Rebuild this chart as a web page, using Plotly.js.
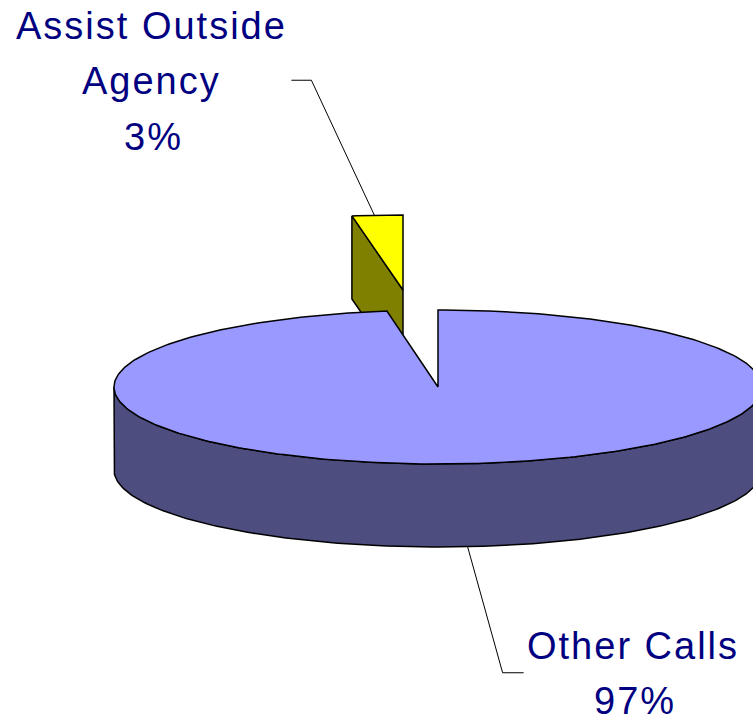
<!DOCTYPE html>
<html>
<head>
<meta charset="utf-8">
<script src="https://cdn.plot.ly/plotly-3.0.1.min.js"></script>
<style>html,body{margin:0;padding:0;background:#fff}#chart{width:753px;height:718px}
.annotation-text{letter-spacing:2px}</style>
</head>
<body>
<div id="chart"></div>
<script>
// Data
var categories = ['Assist Outside Agency', 'Other Calls'];
var shares = [3, 97];
var labelLines = [['Assist Outside', 'Agency', '3%'], ['Other Calls', '97%']];

// Disc geometry on a pixel-sized hidden axis pair
var W = 753, H = 718;
var cx = 438, cy = 387, rx = 324, ry = 77, depth = 83;
var explodeDx = -35, explodeDy = -97;
var perspective = 0.84; // foreshortening of the back rim
var smallT = shares[0] * 3.6 * perspective;
var rad = Math.PI / 180;

function rim(t, ox, oy, dz, rY) {
  return [ox + rx * Math.sin(t * rad), oy - (rY || ry) * Math.cos(t * rad) + (dz || 0)];
}
function path(pts, fill, width) {
  return {
    type: 'scatter', mode: 'lines', x: pts.map(function (p) { return p[0]; }), y: pts.map(function (p) { return p[1]; }),
    fill: fill ? 'toself' : 'none', fillcolor: fill || undefined,
    line: { color: '#000000', width: width, shape: 'linear' }, hoverinfo: 'skip', showlegend: false
  };
}
function arc(t0, t1, ox, oy, dz, rY) {
  var out = [], n = Math.max(2, Math.ceil(Math.abs(t1 - t0)));
  for (var i = 0; i <= n; i++) out.push(rim(t0 + (t1 - t0) * i / n, ox, oy, dz, rY));
  return out;
}

// Exploded slice (3%)
var ex = cx + explodeDx, ey = cy + explodeDy;
var smallTop = [[ex, ey]].concat(arc(-smallT, 0, ex, ey, 0, ry - 2)).concat([[ex, ey]]);
var a = rim(-smallT, ex, ey, 0, ry - 2);
var smallWall = [a, [ex, ey], [ex, ey + depth], [a[0], a[1] + depth], a];

// Main slice (97%)
var mainTop = [[cx, cy]].concat(arc(0, 360 - smallT, cx, cy)).concat([[cx, cy]]);
var mainWall = arc(90, 270, cx, cy).concat(arc(270, 90, cx, cy, depth));
mainWall.push(mainWall[0]);

// Leader lines, from each slice's rim mid-angle
var l0 = rim(-smallT / 2, ex, ey);
var elbow0 = [l0[0] - 66, l0[1] - 133];
var leader0 = [[l0[0] - 3, l0[1] + 2], elbow0, [elbow0[0] - 20, elbow0[1]]];
var l1 = rim((360 - smallT) / 2, cx, cy, depth);
var elbow1 = [l1[0] + 39, l1[1] + 126];
var leader1 = [[l1[0] + 4, l1[1]], elbow1, [elbow1[0] + 21, elbow1[1]]];

var traces = [
  path(leader0, null, 1),
  path(leader1, null, 1),
  path(smallWall, '#808000', 1.5),
  path(smallTop, '#FFFF00', 1.5),
  path(mainWall, '#4D4D80', 1.5),
  path(mainTop, '#9999FF', 1.5)
];

var textFont = { family: '"Liberation Sans", Arial, sans-serif', size: 38, color: '#000080' };
var labelX = [[151, 151, 153], [633, 635]];
var labelY = [[26, 81, 137], [646, 701]];
var annotations = [];
labelLines.forEach(function (lines, i) {
  lines.forEach(function (txt, j) {
    annotations.push({
      xref: 'x', yref: 'y', x: labelX[i][j], y: labelY[i][j], text: txt, showarrow: false,
      xanchor: 'center', yanchor: 'middle', font: textFont
    });
  });
});

var layout = {
  width: W, height: H, margin: { l: 0, r: 0, t: 0, b: 0 }, autosize: false,
  paper_bgcolor: '#ffffff', plot_bgcolor: '#ffffff', showlegend: false,
  xaxis: { range: [0, W], visible: false, fixedrange: true },
  yaxis: { range: [H, 0], visible: false, fixedrange: true },
  annotations: annotations
};
Plotly.newPlot('chart', traces, layout, { displayModeBar: false, staticPlot: true });
</script>
</body>
</html>
